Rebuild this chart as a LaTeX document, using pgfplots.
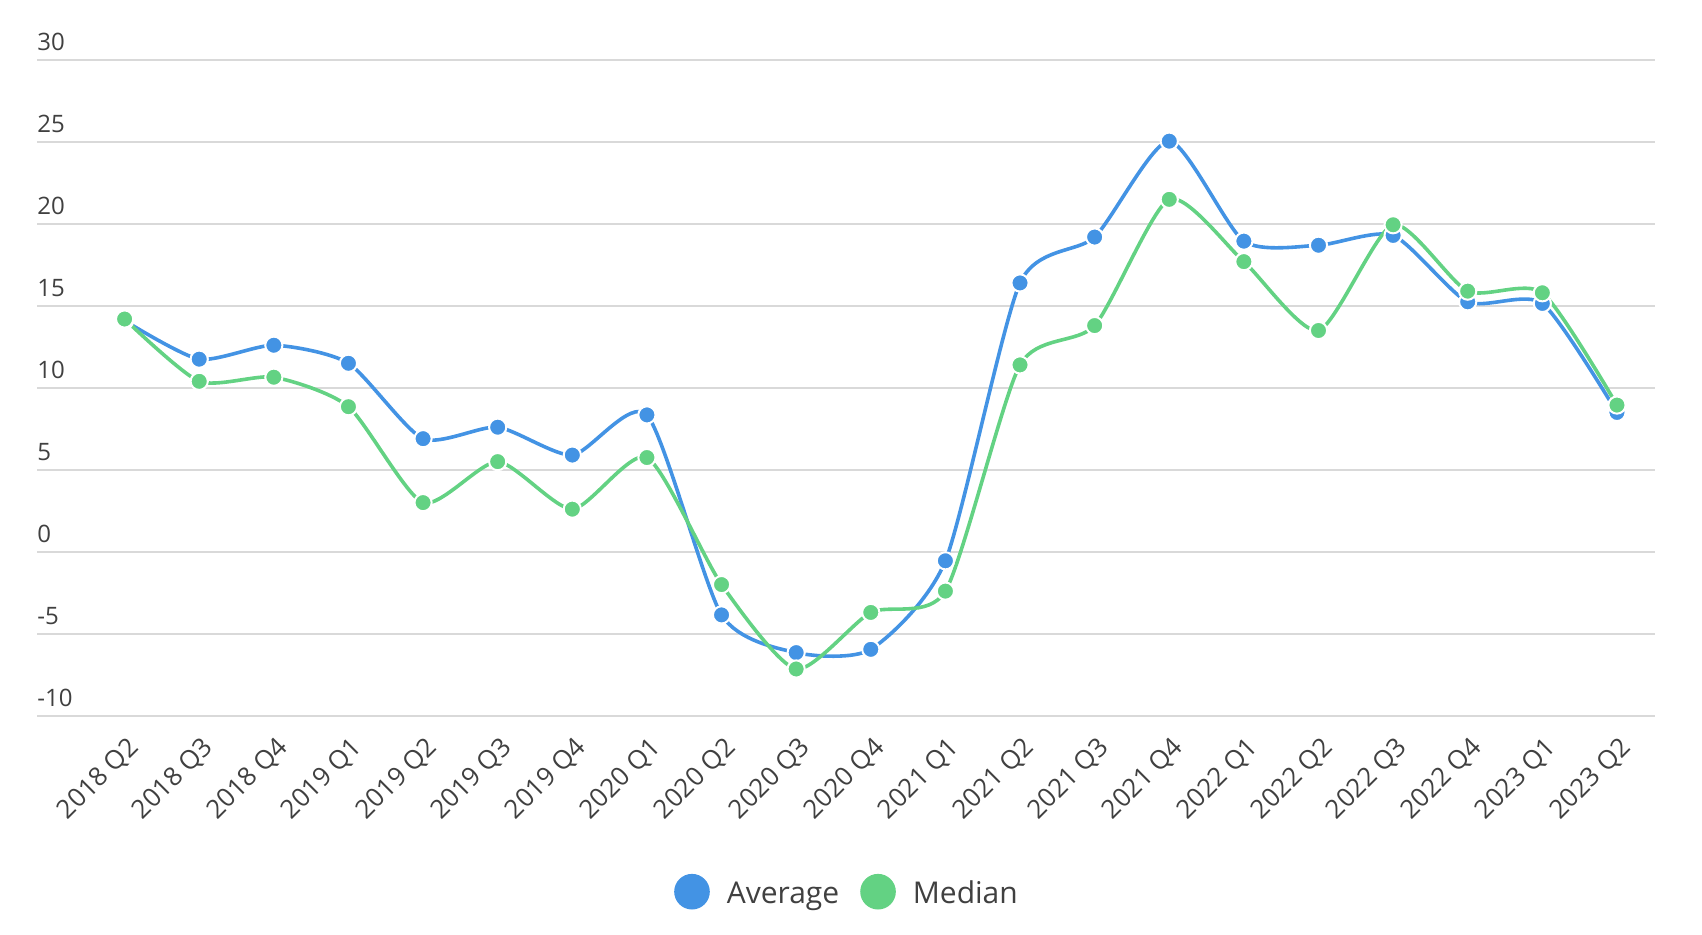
\documentclass[border=0pt]{standalone}
\usepackage{fontspec}
\setmainfont{Open Sans}
\usepackage{pgfplots}
\pgfplotsset{compat=1.18}
\definecolor{avgblue}{HTML}{4393E4}
\definecolor{medgreen}{HTML}{63D283}
\definecolor{gridgray}{HTML}{D9D9D9}
\definecolor{txt}{HTML}{404040}
\begin{document}
\begin{tikzpicture}
\path[use as bounding box] (0,0) rectangle (851pt,467pt);
\begin{axis}[
  at={(18.5pt,109.15pt)}, anchor=south west,
  scale only axis, width=809pt, height=327.85pt,
  xmin=-1.174, xmax=20.51, ymin=-10, ymax=30,
  axis line style={draw=none},
  major tick length=0pt,
  ymajorgrids, grid style={gridgray, line width=0.8pt},
  clip=false,
  ytick={-10,-5,0,5,10,15,20,25,30},
  yticklabels={-10,-5,0,5,10,15,20,25,30},
  yticklabel style={anchor=base west, inner sep=0pt, yshift=4.65pt, font=\fontsize{12}{12}\selectfont, text=txt},
  xtick={0,1,...,20},
  xticklabels={2018 Q2,2018 Q3,2018 Q4,2019 Q1,2019 Q2,2019 Q3,2019 Q4,2020 Q1,2020 Q2,2020 Q3,2020 Q4,2021 Q1,2021 Q2,2021 Q3,2021 Q4,2022 Q1,2022 Q2,2022 Q3,2022 Q4,2023 Q1,2023 Q2},
  xticklabel style={xshift=0.85pt, yshift=-9.6pt, rotate=45, anchor=north east, inner sep=0pt, font=\fontsize{13}{13}\selectfont, text=txt},
  legend columns=-1,
  legend style={at={(axis description cs:0.5,-0.2684)}, anchor=center, draw=none, fill=none,
    font=\fontsize{15}{15}\selectfont, text=txt, nodes={inner sep=0pt},
    /tikz/every odd column/.append style={column sep=8.5pt},
    /tikz/every even column/.append style={column sep=10.5pt}},
]
\addplot[avgblue, line width=1.8pt, smooth, tension=0.4, mark=*, mark size=4.3pt,
  mark options={fill=avgblue, draw=white, line width=1pt},
  legend image code/.code={\fill[avgblue] (8pt,1.2pt) circle (8pt);}]
coordinates {
(0,14.1) (1,11.75) (2,12.6) (3,11.5) (4,6.9) (5,7.6) (6,5.9) (7,8.35)
(8,-3.85) (9,-6.15) (10,-5.95) (11,-0.55) (12,16.4) (13,19.2) (14,25.05)
(15,18.95) (16,18.7) (17,19.3) (18,15.25) (19,15.15) (20,8.5)
};
\addlegendentry{Average}
\addplot[medgreen, line width=1.8pt, smooth, tension=0.4, mark=*, mark size=4.3pt,
  mark options={fill=medgreen, draw=white, line width=1pt},
  legend image code/.code={\fill[medgreen] (8pt,1.2pt) circle (8pt);}]
coordinates {
(0,14.2) (1,10.4) (2,10.65) (3,8.85) (4,3.0) (5,5.5) (6,2.6) (7,5.75)
(8,-2.0) (9,-7.15) (10,-3.7) (11,-2.4) (12,11.4) (13,13.8) (14,21.5)
(15,17.7) (16,13.5) (17,19.95) (18,15.9) (19,15.8) (20,8.95)
};
\addlegendentry{Median}
\end{axis}
\end{tikzpicture}
\end{document}
